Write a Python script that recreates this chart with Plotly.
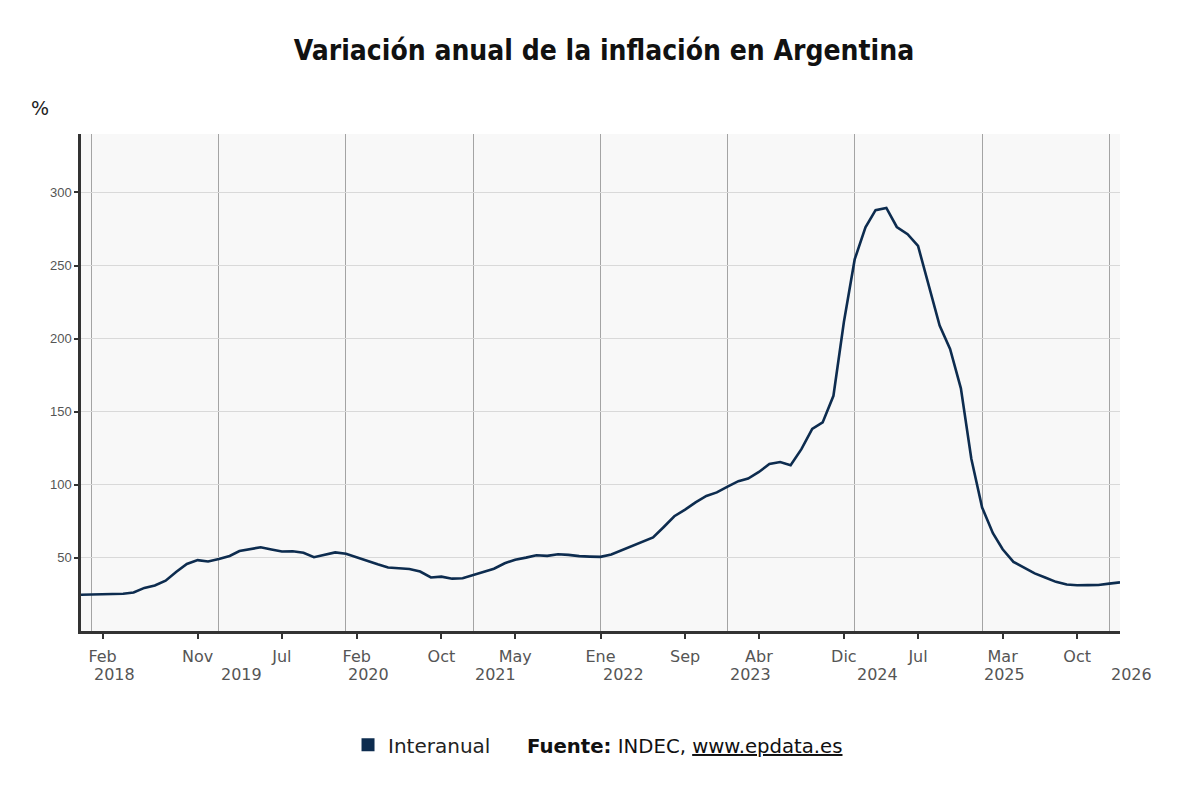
import pandas as pd
import plotly.graph_objects as go

# Monthly year-on-year inflation (%), Dec 2017 .. Feb 2026
months = pd.date_range("2017-12-01", "2026-02-01", freq="MS")
interanual = [
    24.8,
    25.0, 25.4, 25.4, 25.5, 26.3, 29.5, 31.2, 34.4, 40.5, 45.9, 48.5, 47.6,
    49.3, 51.3, 54.7, 55.8, 57.3, 55.8, 54.4, 54.5, 53.5, 50.5, 52.1, 53.8,
    52.9, 50.3, 48.4, 45.6, 43.4, 42.8, 42.4, 40.7, 36.6, 37.2, 35.8, 36.1,
    38.5, 40.7, 42.6, 46.3, 48.8, 50.2, 51.8, 51.4, 52.5, 52.1, 51.2, 50.9,
    50.7, 52.3, 55.1, 58.0, 60.7, 64.0, 71.0, 78.5, 83.0, 88.0, 92.4, 94.8,
    98.8, 102.5, 104.3, 108.8, 114.2, 115.6, 113.4, 124.4, 138.3, 142.7, 160.9, 211.4,
    254.2, 276.2, 287.9, 289.4, 276.4, 271.5, 263.4, 236.7, 209.0, 193.0, 166.0, 117.8,
    84.5, 66.9, 55.9, 47.3, 43.5, 39.4, 36.6, 33.6, 31.8, 31.3, 31.4, 31.5,
    32.4, 33.3,
]

tick_dates = ["2018-02-01", "2018-11-01", "2019-07-01", "2020-02-01", "2020-10-01",
              "2021-05-01", "2022-01-01", "2022-09-01", "2023-04-01", "2023-12-01",
              "2024-07-01", "2025-03-01", "2025-10-01"]
tick_labels = ["Feb", "Nov", "Jul", "Feb", "Oct", "May", "Ene", "Sep", "Abr", "Dic",
               "Jul", "Mar", "Oct"]
years = [2018, 2019, 2020, 2021, 2022, 2023, 2024, 2025, 2026]
y_ticks = [50, 100, 150, 200, 250, 300]

line_color = "#0d2c4f"

fig = go.Figure()
fig.add_trace(go.Scatter(
    x=months, y=interanual, mode="lines",
    line=dict(color=line_color, width=2.6),
    showlegend=False, name="Interanual",
))
fig.add_trace(go.Scatter(
    x=[None], y=[None], mode="markers", name="Interanual",
    marker=dict(symbol="square", size=13, color=line_color),
    showlegend=True,
))

year_starts = [f"{y}-01-01" for y in years]

fig.update_layout(
    width=1192, height=792,
    margin=dict(l=73, r=80, t=126, b=169),
    paper_bgcolor="white",
    plot_bgcolor="#f8f8f8",
    title=dict(
        text="<b>Variación anual de la inflación en Argentina</b>",
        x=0.5, xanchor="center", y=0.947, yanchor="middle",
        font=dict(family="DejaVu Sans Condensed, DejaVu Sans", size=28, color="#111"),
    ),
    xaxis=dict(
        range=[months[0], months[-1]],
        tickmode="array", tickvals=tick_dates, ticktext=tick_labels,
        ticks="outside", ticklen=5, tickwidth=2, tickcolor="#333",
        ticklabelstandoff=4,
        showgrid=False,
        minor=dict(tickmode="array", tickvals=year_starts, showgrid=True,
                   gridcolor="#a4a4a4", gridwidth=1, ticks=""),
        showline=True, linecolor="#333", linewidth=2.5,
        tickfont=dict(family="DejaVu Sans", size=16, color="#555"),
        zeroline=False, fixedrange=True,
    ),
    yaxis=dict(
        range=[0, 340],
        tickmode="array", tickvals=y_ticks,
        ticks="outside", ticklen=4, tickwidth=2, tickcolor="#333",
        showgrid=True, gridcolor="#d9d9d9", gridwidth=1,
        showline=True, linecolor="#333", linewidth=2.5,
        tickfont=dict(family="Liberation Sans, Arial", size=13, color="#555"),
        zeroline=False, fixedrange=True,
    ),
    legend=dict(
        orientation="h", x=0.257, y=-0.229, xanchor="left", yanchor="middle",
        font=dict(family="DejaVu Sans", size=20, color="#222"),
        bgcolor="rgba(0,0,0,0)",
    ),
)

for y, d in zip(years, year_starts):
    fig.add_annotation(
        x=d, xref="x", y=-0.088, yref="paper", text=str(y), showarrow=False,
        xanchor="left", yanchor="middle",
        font=dict(family="DejaVu Sans", size=16, color="#555"),
    )

fig.add_annotation(
    x=-0.050, xref="paper", y=1.052, yref="paper", text="%", showarrow=False,
    xanchor="left", yanchor="middle",
    font=dict(family="DejaVu Sans", size=19, color="#222"),
)

fig.add_annotation(
    x=0.427, xref="paper", y=-0.232, yref="paper",
    text="<b>Fuente:</b> INDEC, <u>www.epdata.es</u>", showarrow=False,
    xanchor="left", yanchor="middle",
    font=dict(family="DejaVu Sans", size=19.7, color="#111"),
)

fig.write_html("out.html")
